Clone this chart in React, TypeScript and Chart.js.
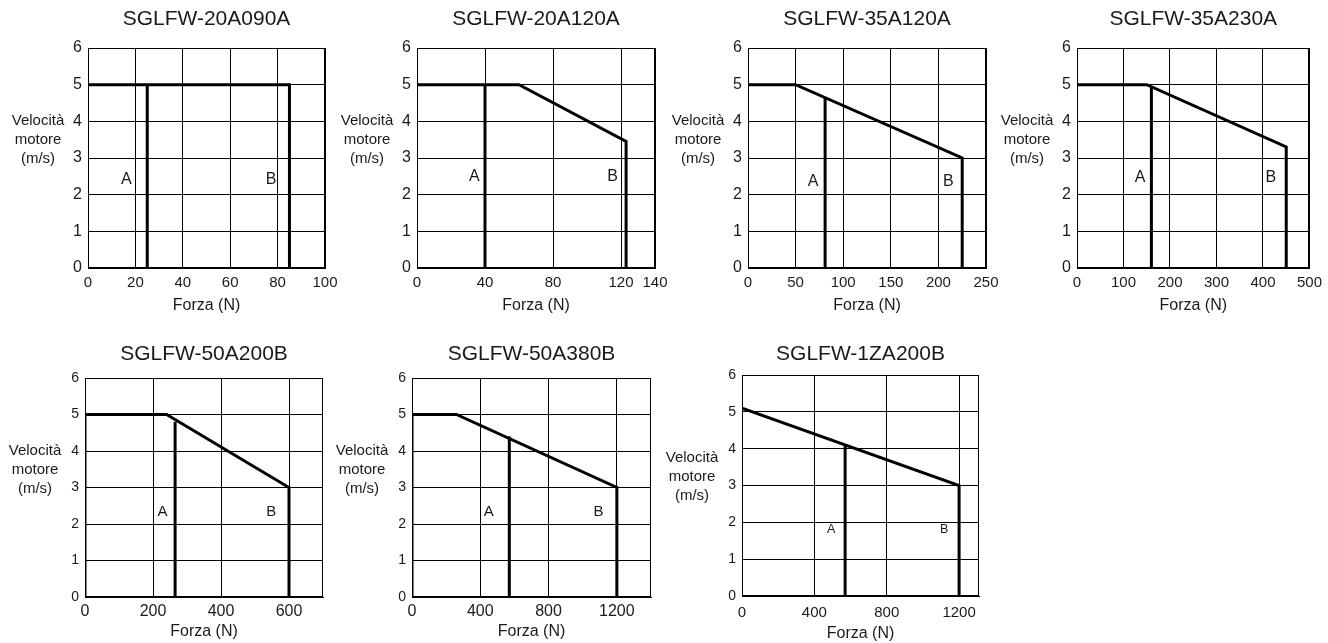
import React, { useEffect, useRef } from 'react';
import { Chart, registerables } from 'chart.js';

Chart.register(...registerables);

const SANS = "'Liberation Sans', Arial, Helvetica, sans-serif";
const INK = '#1a1a1a';

// ---------------- data ----------------
const MODELS = [
  'SGLFW-20A090A',
  'SGLFW-20A120A',
  'SGLFW-35A120A',
  'SGLFW-35A230A',
  'SGLFW-50A200B',
  'SGLFW-50A380B',
  'SGLFW-1ZA200B',
];
const FORCE_MAX = [100, 140, 250, 500, 700, 1400, 1310];
const FORCE_TICKS = [
  [0, 20, 40, 60, 80, 100],
  [0, 40, 80, 120, 140],
  [0, 50, 100, 150, 200, 250],
  [0, 100, 200, 300, 400, 500],
  [0, 200, 400, 600],
  [0, 400, 800, 1200],
  [0, 400, 800, 1200],
];
const SPEED_TICKS = [0, 1, 2, 3, 4, 5, 6];

// curve B (max force envelope)
const CURVE_B_FORCE = [
  [0, 85, 85],
  [0, 60, 123, 123],
  [0, 50, 225, 225],
  [0, 150, 450, 450],
  [0, 0, 240, 600, 600],
  [0, 0, 260, 1200, 1200],
  [0, 1200, 1200],
];
const CURVE_B_SPEED = [
  [5, 5, 0],
  [5, 5, 3.45, 0],
  [5, 5, 3, 0],
  [5, 5, 3.3, 0],
  [0, 5, 5, 3, 0],
  [0, 5, 5, 3, 0],
  [5.1, 3, 0],
];
// curve A (continuous force)
const CURVE_A_FORCE = [25, 40, 81, 160, 265, 570, 570];
const CURVE_A_TOP = [5, 5, 4.64, 4.94, 4.8, 4.4, 4.08];

// A / B marker text anchors (force, speed)
const LABEL_A_AT = [[16.2, 2.4], [33.7, 2.5], [68.4, 2.35], [135.5, 2.47], [227.7, 2.34], [450, 2.34], [493, 1.81]];
const LABEL_B_AT = [[77.3, 2.4], [115, 2.5], [210.4, 2.35], [417, 2.47], [547.8, 2.34], [1092, 2.34], [1117, 1.81]];

const X_TITLE = 'Forza (N)';
const Y_TITLE = ['Velocità', 'motore', '(m/s)'];

// ---------------- layout / styles ----------------
const PLOTS = [
  { l: 88, t: 48, r: 325, b: 268 },
  { l: 417, t: 48, r: 655, b: 268 },
  { l: 748, t: 48, r: 986, b: 268 },
  { l: 1077, t: 48, r: 1315, b: 268 },
  { l: 85, t: 378, r: 323, b: 597 },
  { l: 412, t: 378, r: 651, b: 597 },
  { l: 742, t: 375, r: 979, b: 596 },
];

const TOP_STYLE = {
  yTick: 16,
  xTick: 15,
  mark: 16,
  titleGap: 23,
  yLabelAt: 4,
  xTickPad: 6,
  xTitlePad: 3,
};
const BOTTOM_STYLE = {
  yTick: 14,
  xTick: 16,
  mark: 15,
  titleGap: 18,
  yLabelAt: 4,
  xTickPad: 5,
  xTitlePad: 6,
};
const LAST_STYLE = {
  yTick: 14,
  xTick: 15,
  mark: 12.5,
  titleGap: 15,
  yLabelAt: 3.75,
  xTickPad: 8,
  xTitlePad: 3,
};
const STYLES = [TOP_STYLE, TOP_STYLE, TOP_STYLE, TOP_STYLE, BOTTOM_STYLE, BOTTOM_STYLE, LAST_STYLE];

const PAD_L = 95;
const PAD_T = 45;
const PAD_B = 50;
const PAGE_W = 1328;

function MotorChart({ idx }: { idx: number }) {
  const ref = useRef<HTMLCanvasElement | null>(null);
  const p = PLOTS[idx];
  const st = STYLES[idx];
  const padR = Math.min(25, PAGE_W - p.r);
  const left = p.l - PAD_L;
  const top = p.t - PAD_T;
  const w = p.r - p.l + PAD_L + padR;
  const h = p.b - p.t + PAD_T + PAD_B;

  useEffect(() => {
    if (!ref.current) return;

    const framePlugin = {
      id: 'frame',
      beforeDatasetsDraw(chart: any) {
        const { ctx, chartArea: a } = chart;
        ctx.save();
        ctx.strokeStyle = '#000';
        ctx.lineWidth = 1;
        ctx.strokeRect(Math.round(a.left) + 0.5, Math.round(a.top) + 0.5, Math.round(a.right - a.left) - 1, Math.round(a.bottom - a.top) - 1);
        ctx.restore();
      },
    };

    const textPlugin = {
      id: 'texts',
      afterDraw(chart: any) {
        const { ctx, chartArea: a, scales } = chart;
        const xs = scales.x;
        const ys = scales.y;
        ctx.save();
        ctx.fillStyle = INK;
        // chart title
        ctx.font = `21px ${SANS}`;
        ctx.textAlign = 'center';
        ctx.textBaseline = 'alphabetic';
        ctx.fillText(MODELS[idx], (a.left + a.right) / 2, a.top - st.titleGap);
        // horizontal y-axis title
        ctx.font = `15px ${SANS}`;
        ctx.textBaseline = 'middle';
        const y0 = ys.getPixelForValue(st.yLabelAt);
        Y_TITLE.forEach((line, i) => {
          ctx.fillText(line, a.left - 50, y0 + i * 19);
        });
        // A / B markers
        ctx.font = `${st.mark}px ${SANS}`;
        ctx.fillText('A', xs.getPixelForValue(LABEL_A_AT[idx][0]), ys.getPixelForValue(LABEL_A_AT[idx][1]));
        ctx.fillText('B', xs.getPixelForValue(LABEL_B_AT[idx][0]), ys.getPixelForValue(LABEL_B_AT[idx][1]));
        ctx.restore();
      },
    };

    const lineStyle = {
      borderColor: '#000',
      borderWidth: 3,
      pointRadius: 0,
      tension: 0,
      borderJoinStyle: 'miter' as const,
      borderCapStyle: 'butt' as const,
      fill: false,
    };

    const chart = new Chart(ref.current, {
      type: 'line',
      data: {
        datasets: [
          {
            label: 'B',
            data: CURVE_B_FORCE[idx].map((f, i) => ({ x: f, y: CURVE_B_SPEED[idx][i] })),
            ...lineStyle,
          },
          {
            label: 'A',
            data: [
              { x: CURVE_A_FORCE[idx], y: 0 },
              { x: CURVE_A_FORCE[idx], y: CURVE_A_TOP[idx] },
            ],
            ...lineStyle,
          },
        ],
      },
      options: {
        responsive: false,
        animation: false,
        devicePixelRatio: 1,
        events: [],
        layout: { padding: { left: 0, top: PAD_T, right: padR, bottom: 0 } },
        plugins: {
          legend: { display: false },
          tooltip: { enabled: false },
          title: { display: false },
        },
        scales: {
          x: {
            type: 'linear',
            min: 0,
            max: FORCE_MAX[idx],
            afterBuildTicks: (s: any) => {
              s.ticks = FORCE_TICKS[idx].map((v) => ({ value: v }));
            },
            afterFit: (s: any) => {
              s.height = PAD_B;
            },
            grid: { color: '#000', lineWidth: 1, drawTicks: false },
            border: { color: '#000', width: 1 },
            ticks: {
              autoSkip: false,
              maxRotation: 0,
              padding: st.xTickPad,
              color: INK,
              font: { family: SANS, size: st.xTick },
              callback: (v: any) => String(v),
            },
            title: {
              display: true,
              text: X_TITLE,
              color: INK,
              font: { family: SANS, size: 16, lineHeight: 1.2 },
              padding: { top: 0, bottom: st.xTitlePad },
            },
          },
          y: {
            type: 'linear',
            min: SPEED_TICKS[0],
            max: SPEED_TICKS[SPEED_TICKS.length - 1],
            afterBuildTicks: (s: any) => {
              s.ticks = SPEED_TICKS.map((v) => ({ value: v }));
            },
            afterFit: (s: any) => {
              s.width = PAD_L;
            },
            grid: { color: '#000', lineWidth: 1, drawTicks: false },
            border: { color: '#000', width: 1 },
            ticks: {
              padding: 6,
              color: INK,
              font: { family: SANS, size: st.yTick },
              callback: (v: any) => String(v),
            },
          },
        },
      } as any,
      plugins: [framePlugin, textPlugin],
    });
    return () => chart.destroy();
  }, [idx]);

  return (
    <canvas
      ref={ref}
      width={w}
      height={h}
      style={{ position: 'absolute', left, top, width: w, height: h }}
    />
  );
}

export default function App() {
  return (
    <div
      style={{
        position: 'fixed',
        left: 0,
        top: 0,
        width: PAGE_W,
        height: 643,
        overflow: 'hidden',
        background: '#fff',
      }}
    >
      {MODELS.map((_, i) => (
        <MotorChart key={i} idx={i} />
      ))}
    </div>
  );
}
